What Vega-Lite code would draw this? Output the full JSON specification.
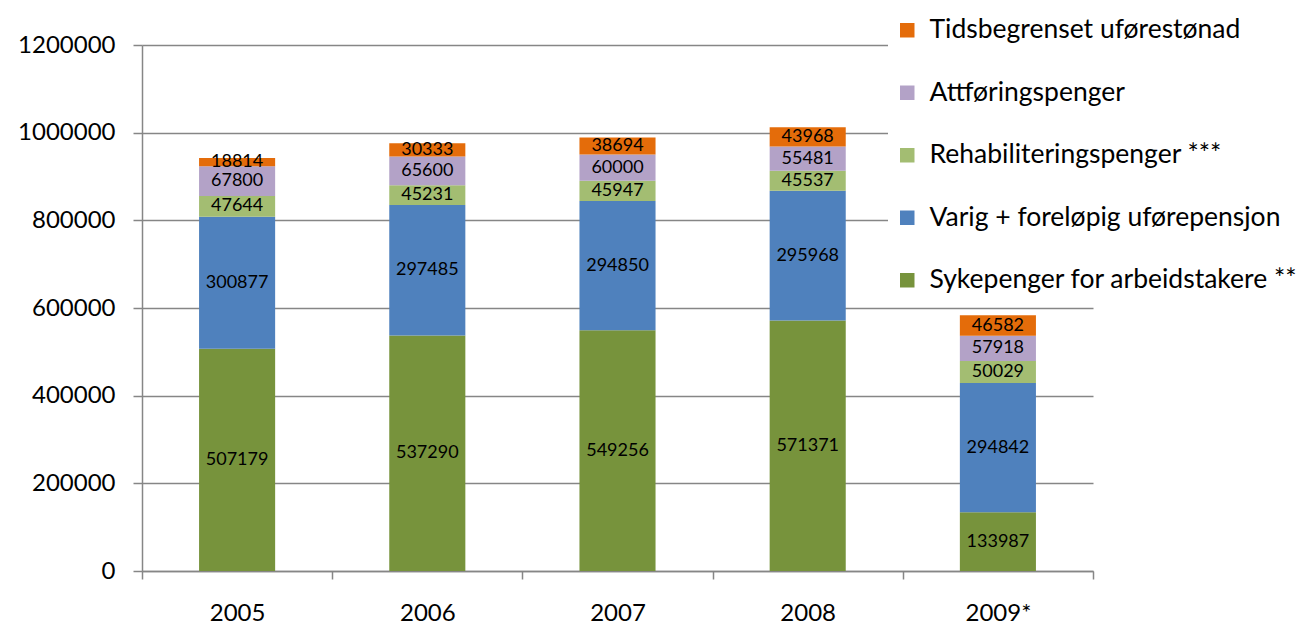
{
  "$schema": "https://vega.github.io/schema/vega-lite/v6.json",
  "width": 951,
  "height": 526,
  "autosize": "none",
  "padding": {"left": 142, "top": 45, "right": 221, "bottom": 57},
  "background": "white",
  "config": {"view": {"stroke": null}, "font": "Lato"},
  "data": {"values": [
    {"year": "2005", "type": "Sykepenger for arbeidstakere **", "o": 1, "value": 507179},
    {"year": "2005", "type": "Varig + foreløpig uførepensjon", "o": 2, "value": 300877},
    {"year": "2005", "type": "Rehabiliteringspenger ***", "o": 3, "value": 47644},
    {"year": "2005", "type": "Attføringspenger", "o": 4, "value": 67800},
    {"year": "2005", "type": "Tidsbegrenset uførestønad", "o": 5, "value": 18814},
    {"year": "2006", "type": "Sykepenger for arbeidstakere **", "o": 1, "value": 537290},
    {"year": "2006", "type": "Varig + foreløpig uførepensjon", "o": 2, "value": 297485},
    {"year": "2006", "type": "Rehabiliteringspenger ***", "o": 3, "value": 45231},
    {"year": "2006", "type": "Attføringspenger", "o": 4, "value": 65600},
    {"year": "2006", "type": "Tidsbegrenset uførestønad", "o": 5, "value": 30333},
    {"year": "2007", "type": "Sykepenger for arbeidstakere **", "o": 1, "value": 549256},
    {"year": "2007", "type": "Varig + foreløpig uførepensjon", "o": 2, "value": 294850},
    {"year": "2007", "type": "Rehabiliteringspenger ***", "o": 3, "value": 45947},
    {"year": "2007", "type": "Attføringspenger", "o": 4, "value": 60000},
    {"year": "2007", "type": "Tidsbegrenset uførestønad", "o": 5, "value": 38694},
    {"year": "2008", "type": "Sykepenger for arbeidstakere **", "o": 1, "value": 571371},
    {"year": "2008", "type": "Varig + foreløpig uførepensjon", "o": 2, "value": 295968},
    {"year": "2008", "type": "Rehabiliteringspenger ***", "o": 3, "value": 45537},
    {"year": "2008", "type": "Attføringspenger", "o": 4, "value": 55481},
    {"year": "2008", "type": "Tidsbegrenset uførestønad", "o": 5, "value": 43968},
    {"year": "2009*", "type": "Sykepenger for arbeidstakere **", "o": 1, "value": 133987},
    {"year": "2009*", "type": "Varig + foreløpig uførepensjon", "o": 2, "value": 294842},
    {"year": "2009*", "type": "Rehabiliteringspenger ***", "o": 3, "value": 50029},
    {"year": "2009*", "type": "Attføringspenger", "o": 4, "value": 57918},
    {"year": "2009*", "type": "Tidsbegrenset uførestønad", "o": 5, "value": 46582}
  ]},
  "encoding": {
    "x": {
      "field": "year", "type": "nominal", "title": null,
      "scale": {"paddingInner": 0, "paddingOuter": 0},
      "axis": {
        "labelAngle": 0, "labelFontSize": 24, "labelColor": "black", "labelPadding": 22,
        "domainColor": "#868686", "domainWidth": 1.5, "tickColor": "#868686", "tickWidth": 1.5,
        "tickSize": 8, "tickBand": "extent"
      }
    },
    "y": {
      "field": "value", "type": "quantitative", "stack": "zero", "title": null,
      "scale": {"domain": [0, 1200000]},
      "axis": {
        "values": [0, 200000, 400000, 600000, 800000, 1000000, 1200000],
        "format": "d", "labelFontSize": 24, "labelColor": "black", "labelPadding": 18,
        "domainColor": "#868686", "domainWidth": 1.5, "tickColor": "#868686", "tickWidth": 1.5,
        "tickSize": 9, "gridColor": "#868686", "gridWidth": 1.5
      }
    },
    "order": {"field": "o", "type": "quantitative", "sort": "ascending"}
  },
  "layer": [
    {
      "mark": {"type": "bar", "width": {"band": 0.4}},
      "encoding": {
        "color": {
          "field": "type", "type": "nominal",
          "scale": {
            "domain": ["Tidsbegrenset uførestønad", "Attføringspenger", "Rehabiliteringspenger ***", "Varig + foreløpig uførepensjon", "Sykepenger for arbeidstakere **"],
            "range": ["#E46C0A", "#B3A2C7", "#A3BD72", "#4F81BD", "#77933C"]
          },
          "legend": {
            "title": null, "orient": "none", "legendX": 746, "legendY": -34,
            "labelFontSize": 26.5, "labelColor": "black", "symbolType": "square", "symbolSize": 210,
            "symbolStrokeWidth": 0, "rowPadding": 35.5, "labelOffset": 9, "fillColor": "white",
            "padding": 6, "labelLimit": 500
          }
        }
      }
    },
    {
      "mark": {"type": "text", "fontSize": 18, "color": "black", "baseline": "middle"},
      "encoding": {
        "text": {"field": "value", "type": "quantitative", "format": "d"},
        "y": {"field": "value", "type": "quantitative", "stack": "zero", "bandPosition": 0.5}
      }
    }
  ]
}
